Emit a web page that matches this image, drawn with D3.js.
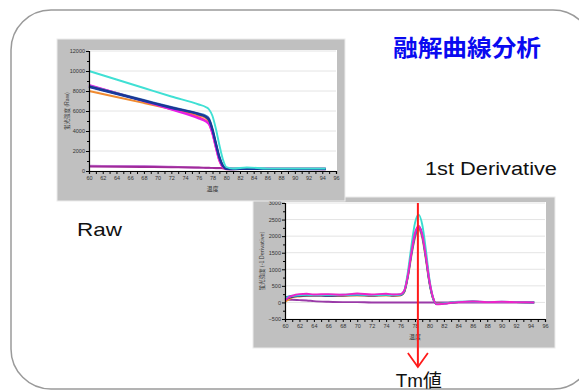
<!DOCTYPE html>
<html>
<head>
<meta charset="utf-8">
<script src="https://cdn.jsdelivr.net/npm/d3@7"></script>
<style>
body { margin: 0; background: #fff; }
</style>
</head>
<body>
<svg id="fig" width="579" height="392"></svg>
<script>
// melt curve data

// raw fluorescence
var rawTemps   = [60, 64, 68, 72, 76, 77, 77.5, 78, 78.5, 79, 79.5, 80, 81, 83, 86, 90, 94.5]
var rawCyan    = [10000, 9150, 8300, 7450, 6650, 6400, 6150, 5500, 4200, 2600, 1200, 400, 250, 350, 250, 250, 250]
var rawBlue    = [8500, 7800, 7100, 6400, 5750, 5550, 5250, 4250, 2850, 1500, 600, 250, 200, 220, 200, 200, 200]
var rawNavy    = [8400, 7700, 7000, 6300, 5650, 5400, 5050, 4050, 2650, 1300, 500, 200, 180, 200, 200, 180, 180]
var rawDark    = [8450, 7750, 7050, 6350, 5700, 5450, 5150, 4150, 2750, 1400, 550, 220, 200, 200, 200, 200, 200]
var rawMagenta = [8600, 7800, 7000, 6150, 5250, 4950, 4650, 3700, 2300, 1050, 400, 200, 200, 200, 220, 200, 200]
var rawPink    = [8550, 7800, 7000, 6200, 5350, 5050, 4700, 3700, 2300, 1000, 350, 180, 180, 200, 200, 200, 180]
var rawOrange  = [8000, 7400, 6800, 6200, 5550, 5300, 4950, 3950, 2550, 1250, 450, 200, 200, 220, 200, 200, 200]
var rawNcA     = [450, 420, 400, 380, 350, 330, 320, 310, 300, 300, 280, 250, 250, 250, 250, 250, 250]
var rawNcB     = [520, 510, 500, 430, 320, 300, 300, 290, 280, 280, 270, 250, 240, 240, 240, 240, 240]

// 1st derivative (-dF/dT)
var derTemps   = [60, 60.5, 61, 62, 63, 64, 66, 68, 70, 72, 74, 75, 76, 76.5, 77, 77.5, 78, 78.5, 79, 79.5, 80, 80.5, 81, 82, 84, 86, 88, 90, 92, 94.5]
var derMagenta = [60, 150, 200, 250, 260, 240, 250, 230, 270, 240, 260, 240, 250, 350, 800, 1500, 2100, 2300, 2050, 1400, 650, 150, -60, -40, 10, 30, 10, 20, 10, 0]
var derCyan    = [120, 160, 190, 220, 230, 220, 230, 220, 240, 220, 230, 220, 240, 350, 900, 1700, 2400, 2650, 2350, 1600, 700, 150, -50, -30, 20, 30, 10, 20, 10, 0]
var derBlue    = [150, 180, 200, 210, 230, 220, 220, 230, 230, 220, 240, 230, 230, 330, 780, 1450, 2000, 2250, 2000, 1350, 600, 120, -50, -30, 10, 20, 10, 10, 10, 0]
var derNavy    = [100, 140, 170, 200, 210, 210, 200, 210, 220, 210, 220, 210, 220, 320, 800, 1500, 2050, 2300, 2050, 1400, 620, 130, -50, -30, 10, 20, 10, 10, 10, 0]
var derOrange  = [20, 80, 150, 180, 200, 210, 200, 200, 210, 200, 210, 200, 210, 300, 750, 1400, 1950, 2200, 1950, 1300, 580, 110, -40, -20, 10, 20, 10, 10, 10, 0]
var derNc      = [80, 80, 80, 70, 60, 40, 20, 10, 10, 0, 0, 0, 0, 0, 0, 0, 0, 0, 0, 0, 0, 0, 0, 0, 0, 0, 0, 0, 0, 0]

var tmValue = 78.4

var xTicks = d3.range(60, 97, 1)
var xLabels = d3.range(60, 97, 2)
var rawYTicks = [0, 2000, 4000, 6000, 8000, 10000, 12000]
var derYTicks = [-500, 0, 500, 1000, 1500, 2000, 2500, 3000]

var svg = d3.select("#fig")

// outer rounded frame
svg.append("rect")
    .attr("x", 11).attr("y", 10)
    .attr("width", 582).attr("height", 379)
    .attr("rx", 40).attr("ry", 40)
    .attr("fill", "#fff")
    .attr("stroke", "#9a9a9a")
    .attr("stroke-width", 1.5)

function drawChart(cfg) {
    var g = svg.append("g")

    g.append("rect")
        .attr("x", cfg.panel[0]).attr("y", cfg.panel[1])
        .attr("width", cfg.panel[2]).attr("height", cfg.panel[3])
        .attr("fill", "#c0c0c0")
        .attr("stroke", "#ececec")
        .attr("stroke-width", 1)

    var x = d3.scaleLinear().domain([60, 96]).range(cfg.xRange)
    var y = d3.scaleLinear().domain(cfg.yDomain).range(cfg.yRange)

    g.append("rect")
        .attr("x", cfg.xRange[0]).attr("y", cfg.yRange[1] - 1)
        .attr("width", cfg.xRange[1] - cfg.xRange[0] + 1)
        .attr("height", cfg.yRange[0] - cfg.yRange[1] + 1)
        .attr("fill", "#fff")

    // gridlines
    g.selectAll(".grid").data(cfg.yTicks).join("line")
        .attr("x1", cfg.xRange[0]).attr("x2", cfg.xRange[1])
        .attr("y1", d => y(d)).attr("y2", d => y(d))
        .attr("stroke", "#e4e4e4").attr("stroke-width", 1)

    var line = d3.line()
        .x(d => x(d[0]))
        .y(d => y(d[1]))
        .curve(d3.curveMonotoneX)

    cfg.series.forEach(function(s) {
        g.append("path")
            .datum(cfg.temps.map((t, i) => [t, s.values[i]]))
            .attr("fill", "none")
            .attr("stroke", s.color)
            .attr("stroke-width", 1.9)
            .attr("stroke-linejoin", "round")
            .attr("d", line)
    })

    // y axis with minor ticks
    var minor = []
    for (var i = 0; i < cfg.yTicks.length - 1; i++) {
        var a = cfg.yTicks[i], b = cfg.yTicks[i + 1]
        minor.push(a + (b - a) / 2)
    }
    g.append("g")
        .attr("transform", "translate(" + cfg.xRange[0] + ",0)")
        .call(d3.axisLeft(y).tickValues(cfg.yTicks).tickSize(3).tickPadding(1).tickFormat(d3.format("d")))
    g.append("g")
        .attr("transform", "translate(" + cfg.xRange[0] + ",0)")
        .call(d3.axisLeft(y).tickValues(minor).tickSize(2).tickFormat(""))
        .select(".domain").remove()

    g.append("g")
        .attr("transform", "translate(0," + cfg.yRange[0] + ")")
        .call(d3.axisBottom(x).tickValues(xTicks).tickSize(3).tickPadding(2)
            .tickFormat(d => xLabels.indexOf(d) >= 0 ? d : ""))

    g.selectAll(".domain").attr("stroke", "#000").attr("stroke-width", 1.2)
    g.selectAll(".tick line").attr("stroke", "#000")
    g.selectAll(".tick text")
        .attr("font-family", "Liberation Sans, Arial, sans-serif")
        .attr("font-size", 5.5)
        .attr("fill", "#333")

    g.append("text")
        .attr("x", (cfg.xRange[0] + cfg.xRange[1]) / 2)
        .attr("y", cfg.yRange[0] + 20)
        .attr("text-anchor", "middle")
        .attr("font-family", "Noto Sans CJK JP, sans-serif")
        .attr("font-size", 6)
        .attr("fill", "#333")
        .text("温度")

    g.append("text")
        .attr("transform", "translate(" + cfg.yTitleX + "," + (cfg.yRange[0] + cfg.yRange[1]) / 2 + ") rotate(-90)")
        .attr("text-anchor", "middle")
        .attr("font-family", "Noto Sans CJK JP, sans-serif")
        .attr("font-size", 5.5)
        .attr("fill", "#333")
        .text(cfg.yTitle)

    return { x: x, y: y }
}

var der = drawChart({
    panel: [253, 197, 302, 151],
    xRange: [285, 545],
    yRange: [319, 203],
    yDomain: [-500, 3000],
    yTicks: derYTicks,
    yTitleX: 264,
    yTitle: "蛍光強度 (-1 Derivative)",
    temps: derTemps,
    series: [
        { values: derNc, color: "#9a3aa8" },
        { values: derOrange, color: "#f0902a" },
        { values: derNavy, color: "#1c2a88" },
        { values: derBlue, color: "#3a7ad0" },
        { values: derCyan, color: "#38dcd0" },
        { values: derMagenta, color: "#ee22c8" }
    ]
})

drawChart({
    panel: [57, 39, 288, 162],
    xRange: [89, 336],
    yRange: [171, 51],
    yDomain: [0, 12000],
    yTicks: rawYTicks,
    yTitleX: 69,
    yTitle: "蛍光強度 (Raw)",
    temps: rawTemps,
    series: [
        { values: rawNcB, color: "#c47ad6" },
        { values: rawNcA, color: "#a02a9a" },
        { values: rawOrange, color: "#f08a30" },
        { values: rawPink, color: "#ff3c8c" },
        { values: rawMagenta, color: "#e81ee8" },
        { values: rawBlue, color: "#3a78c8" },
        { values: rawDark, color: "#202a70" },
        { values: rawNavy, color: "#1a3aa0" },
        { values: rawCyan, color: "#40e0d4" }
    ]
})

// Tm marker
var tmX = der.x(tmValue)
svg.append("line")
    .attr("x1", tmX).attr("x2", tmX)
    .attr("y1", 203).attr("y2", 367)
    .attr("stroke", "#ff1a1a").attr("stroke-width", 2)
svg.append("path")
    .attr("d", "M" + (tmX - 10) + ",353 L" + tmX + ",367 L" + (tmX + 10) + ",353")
    .attr("fill", "none")
    .attr("stroke", "#ff1a1a").attr("stroke-width", 1.8)

// labels
svg.append("text")
    .attr("x", 393).attr("y", 56)
    .attr("font-family", "Noto Sans CJK JP, sans-serif")
    .attr("font-weight", "bold")
    .attr("font-size", 23)
    .attr("fill", "#0a0af0")
    .attr("textLength", 148)
    .attr("lengthAdjust", "spacingAndGlyphs")
    .text("融解曲線分析")

svg.append("text")
    .attr("x", 77).attr("y", 236)
    .attr("font-family", "Liberation Sans, Arial, sans-serif")
    .attr("font-size", 19)
    .attr("fill", "#111")
    .attr("textLength", 45)
    .attr("lengthAdjust", "spacingAndGlyphs")
    .text("Raw")

svg.append("text")
    .attr("x", 425).attr("y", 175)
    .attr("font-family", "Liberation Sans, Arial, sans-serif")
    .attr("font-size", 18)
    .attr("fill", "#111")
    .attr("textLength", 132)
    .attr("lengthAdjust", "spacingAndGlyphs")
    .text("1st Derivative")

svg.append("text")
    .attr("x", tmX - 22).attr("y", 387)
    .attr("font-family", "Liberation Sans, Noto Sans CJK JP, sans-serif")
    .attr("font-size", 18)
    .attr("fill", "#111")
    .attr("textLength", 46)
    .attr("lengthAdjust", "spacingAndGlyphs")
    .text("Tm値")
</script>
</body>
</html>
